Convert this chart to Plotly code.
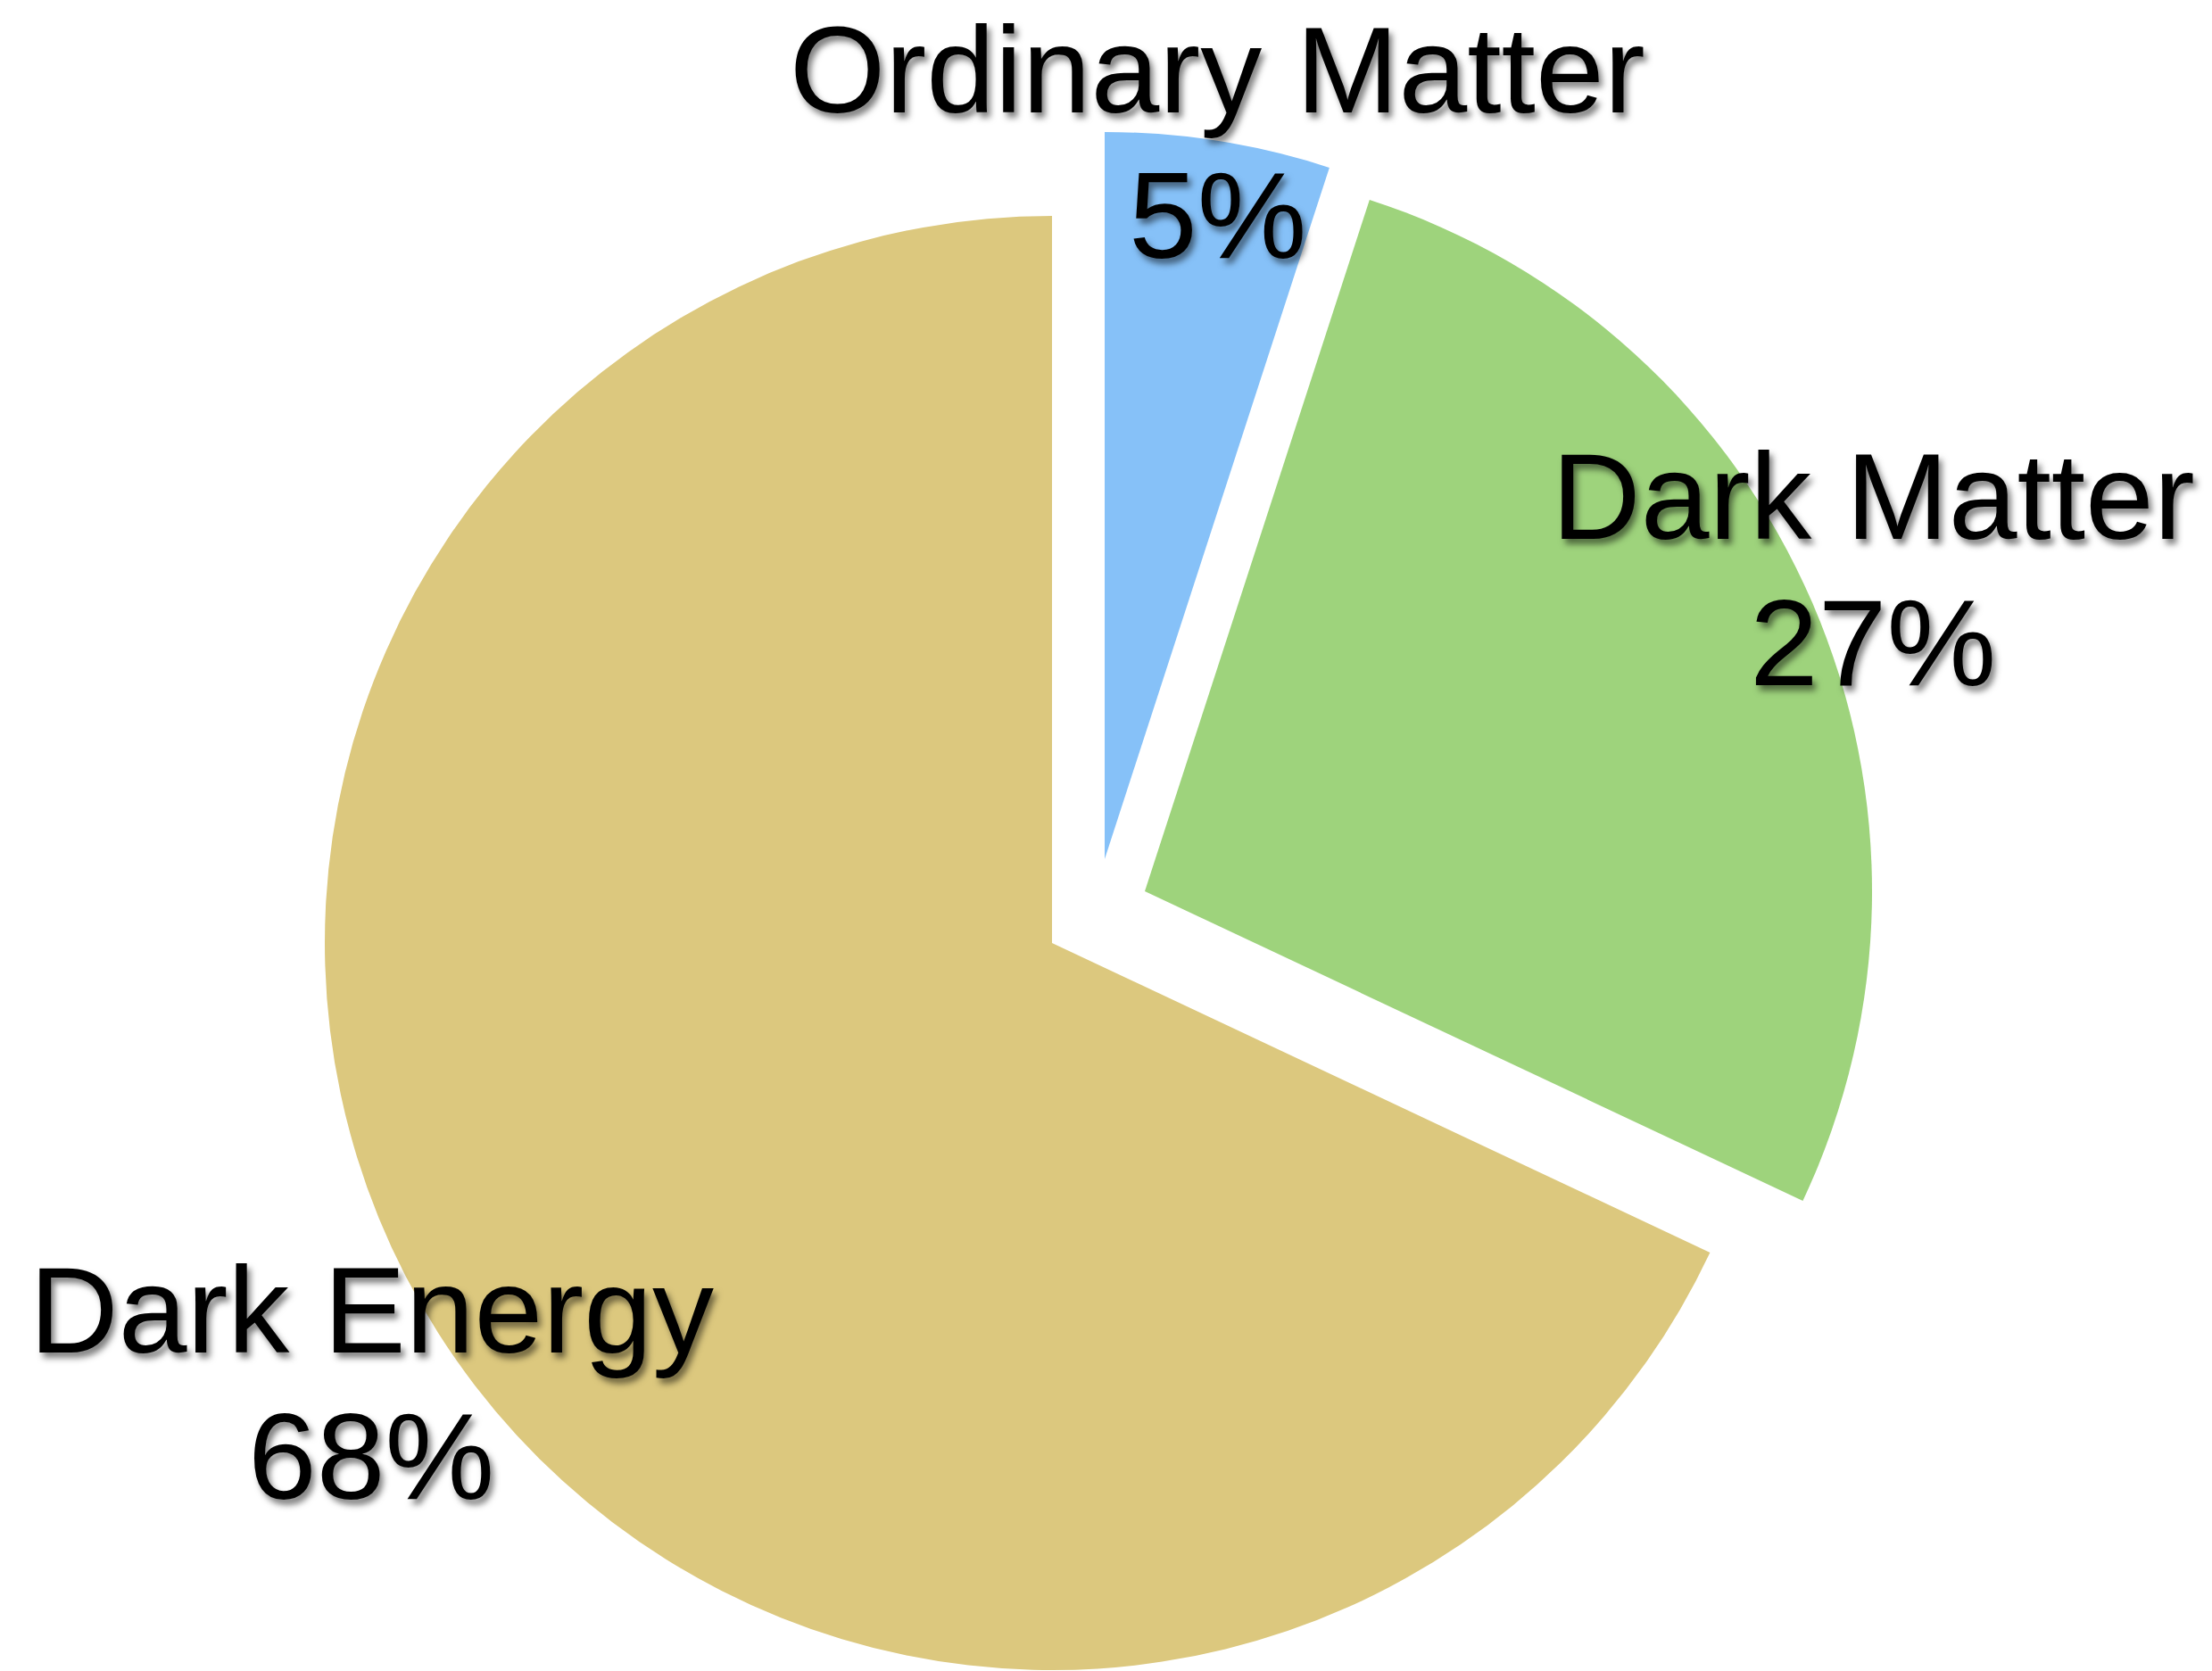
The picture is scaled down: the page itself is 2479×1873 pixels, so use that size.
import plotly.graph_objects as go

# Composition of the universe
labels = ["Ordinary Matter", "Dark Matter", "Dark Energy"]
shares = [5, 27, 68]
colors = ["#86C1F8", "#9ED37C", "#DCC87E"]

W, H = 2479, 1873
R = 815  # pie radius in px

# centre of each exploded wedge (px from top-left)
wedge_centres = [(1238, 963), (1283, 999), (1179, 1057)]

# label placement: (x centre, y of name line, y of value line) in px
label_pos = [(1364, 78, 241), (2099, 556, 720), (416, 1468, 1632)]

FONT = "Helvetica Neue, Liberation Sans, Arial, sans-serif"
FSIZE = 138
SHADOW = "4px 6px 7px rgba(0,0,0,0.5)"


def px_domain(cx, cy):
    return dict(
        x=[(cx - R) / W, (cx + R) / W],
        y=[(H - cy - R) / H, (H - cy + R) / H],
    )


fig = go.Figure()
for i, (cx, cy) in enumerate(wedge_centres):
    slice_colors = [c if j == i else "rgba(0,0,0,0)" for j, c in enumerate(colors)]
    fig.add_trace(
        go.Pie(
            labels=labels,
            values=shares,
            sort=False,
            direction="clockwise",
            rotation=0,
            marker=dict(colors=slice_colors, line=dict(width=0)),
            textinfo="none",
            hoverinfo="skip",
            showlegend=False,
            domain=px_domain(cx, cy),
        )
    )

annotations = []
for name, val, (lx, ny, vy) in zip(labels, shares, label_pos):
    for txt, yy in ((name, ny), (f"{val}%", vy)):
        annotations.append(
            dict(
                text=txt,
                x=lx / W,
                y=(H - yy) / H,
                xref="paper",
                yref="paper",
                xanchor="center",
                yanchor="middle",
                borderpad=0,
                showarrow=False,
                font=dict(family=FONT, size=FSIZE, color="black", shadow=SHADOW),
            )
        )

fig.update_layout(
    width=W,
    height=H,
    margin=dict(l=0, r=0, t=0, b=0),
    paper_bgcolor="white",
    plot_bgcolor="white",
    annotations=annotations,
)

fig.write_html("out.html")
